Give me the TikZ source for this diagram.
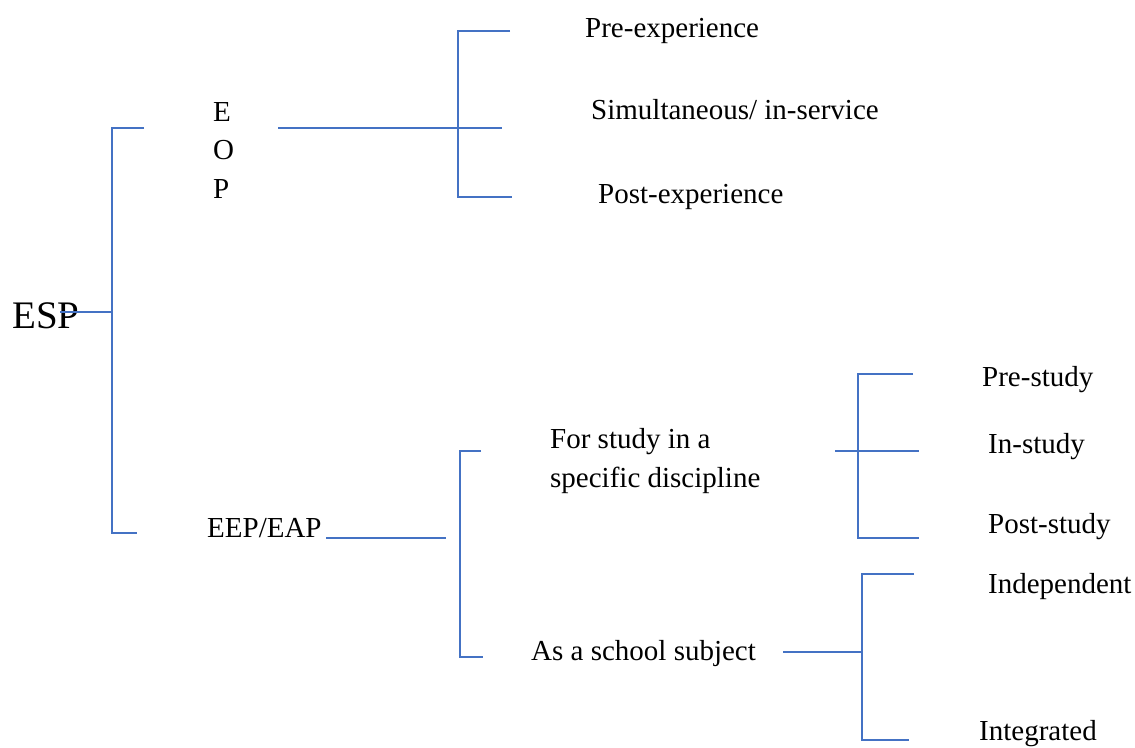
\documentclass[tikz,border=0pt]{standalone}
\usepackage{fontspec}
\setmainfont{Liberation Serif}
\definecolor{branchblue}{RGB}{68,114,196}
\begin{document}
\begin{tikzpicture}[x=1pt,y=-1pt]
	\tikzstyle{every node}=[font=\fontsize{29pt}{38.5pt}\selectfont, inner sep=0pt, anchor=base west]
	\tikzstyle{branch}=[draw=branchblue, line width=2pt]
	\useasboundingbox (0,0) rectangle (1135,747);
	
	% texts
	\node (esp) at (12,328) {\fontsize{39pt}{40pt}\selectfont ESP};
	\node [align=left] (eop) at (213,198) {E\\O\\P};
	\node (eep) at (207,537) {EEP/EAP};
	\node (preexp) at (585,37) {Pre-experience};
	\node (simul) at (591,119) {Simultaneous/ in-service};
	\node (postexp) at (598,203) {Post-experience};
	\node [align=left] (forstudy) at (550,487) {For study in a\\specific discipline};
	\node (school) at (531,660) {As a school subject};
	\node (prestudy) at (982,386) {Pre-study};
	\node (instudy) at (988,453) {In-study};
	\node (poststudy) at (988,533) {Post-study};
	\node (indep) at (988,593) {Independent};
	\node (integ) at (979,740) {Integrated};
	
	% joints
	\coordinate (espA) at (60,312);   \coordinate (espB) at (112,312);
	\coordinate (espT) at (144,128);  \coordinate (espTc) at (112,128);
	\coordinate (espBc) at (112,533); \coordinate (espBe) at (137,533);
	\coordinate (eopA) at (278,128);  \coordinate (eopB) at (502,128);
	\coordinate (eopT) at (510,31);   \coordinate (eopTc) at (458,31);
	\coordinate (eopBc) at (458,197); \coordinate (eopBe) at (512,197);
	\coordinate (eepA) at (326,538);  \coordinate (eepB) at (446,538);
	\coordinate (eepT) at (481,451);  \coordinate (eepTc) at (460,451);
	\coordinate (eepBc) at (460,657); \coordinate (eepBe) at (483,657);
	\coordinate (stA) at (835,451);   \coordinate (stB) at (919,451);
	\coordinate (stT) at (913,374);   \coordinate (stTc) at (858,374);
	\coordinate (stBc) at (858,538);  \coordinate (stBe) at (919,538);
	\coordinate (scA) at (783,652);   \coordinate (scB) at (862,652);
	\coordinate (scT) at (914,574);   \coordinate (scTc) at (862,574);
	\coordinate (scBc) at (862,740);  \coordinate (scBe) at (909,740);
	
	% branches
	\draw [branch] (espA) -- (espB);
	\draw [branch] (espT) -- (espTc) -- (espBc) -- (espBe);
	\draw [branch] (eopA) -- (eopB);
	\draw [branch] (eopT) -- (eopTc) -- (eopBc) -- (eopBe);
	\draw [branch] (eepA) -- (eepB);
	\draw [branch] (eepT) -- (eepTc) -- (eepBc) -- (eepBe);
	\draw [branch] (stA) -- (stB);
	\draw [branch] (stT) -- (stTc) -- (stBc) -- (stBe);
	\draw [branch] (scA) -- (scB);
	\draw [branch] (scT) -- (scTc) -- (scBc) -- (scBe);
\end{tikzpicture}
\end{document}
